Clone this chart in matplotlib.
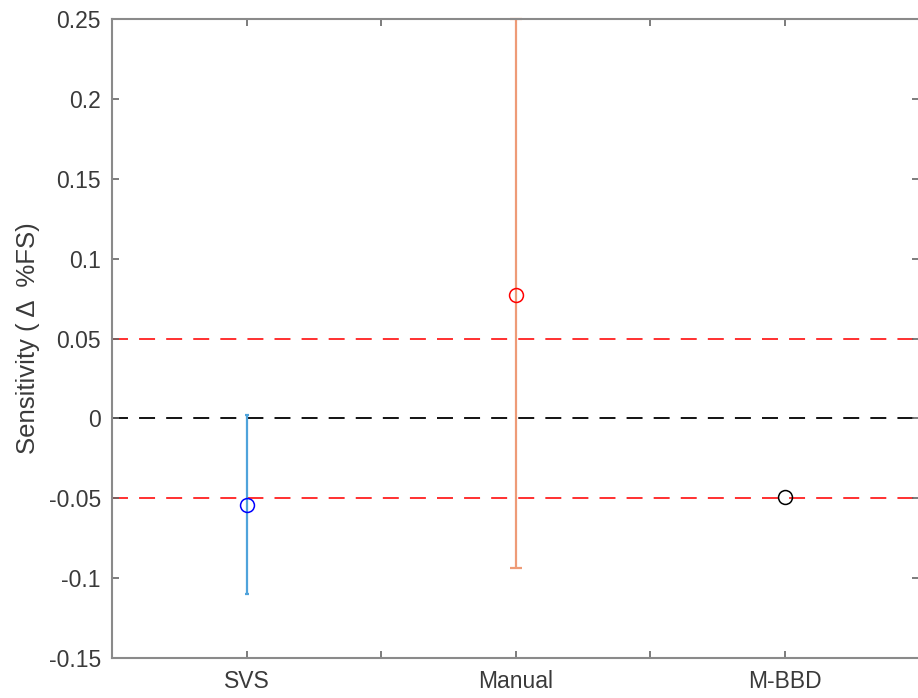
import matplotlib
matplotlib.use("Agg")
import matplotlib.pyplot as plt
import numpy as np

categories = ["SVS", "Manual", "M-BBD"]
positions = [1, 2, 3]
means = [-0.054, 0.0775, -0.049]
upper = [0.002, 0.25, None]
lower = [-0.11, -0.0935, None]
marker_colors = ["#0000ff", "#ff0000", "#000000"]
bar_colors = ["#4fa3db", "#ee9b77", None]
cap_colors = ["#3d95d0", "#e2672f", None]
cap_sizes = [1.5, 4.0, 0]
ref_lines = [0.05, 0.0, -0.05]
ref_colors = ["#ff2020", "#000000", "#ff2020"]
yticks = [-0.15, -0.1, -0.05, 0, 0.05, 0.1, 0.15, 0.2, 0.25]
ytick_labels = ["-0.15", "-0.1", "-0.05", "0", "0.05", "0.1", "0.15", "0.2", "0.25"]

plt.rcParams['font.family'] = ['Liberation Sans', 'DejaVu Sans']
plt.rcParams['lines.scale_dashes'] = False

W, H = 918, 698
fig = plt.figure(figsize=(W / 100, H / 100), dpi=100)
left, right, top, bottom = 112, 919, 19, 658
ax = fig.add_axes([left / W, (H - bottom) / H, (right - left) / W, (bottom - top) / H])

ax.set_xlim(0.5, 3.5)
ax.set_ylim(-0.15, 0.25)

for y, c in zip(ref_lines, ref_colors):
    ax.axhline(y, color=c, lw=1.3, dashes=(11.5, 8.0), zorder=1)

for i in range(len(categories)):
    if upper[i] is not None:
        yerr = [[means[i] - lower[i]], [upper[i] - means[i]]]
        eb = ax.errorbar([positions[i]], [means[i]], yerr=yerr, fmt='none',
                         ecolor=bar_colors[i], elinewidth=1.6, capsize=cap_sizes[i],
                         capthick=1.6, zorder=2, clip_on=False)
        for cl in eb[1]:
            cl.set_color(cap_colors[i])
    ax.plot([positions[i]], [means[i]], 'o', mfc='none', mec=marker_colors[i],
            ms=10, mew=1.1, zorder=3)

ax.set_xticks([0.5, 1, 1.5, 2, 2.5, 3, 3.5])
ax.set_xticklabels(["", "SVS", "", "Manual", "", "M-BBD", ""])
ax.set_yticks(yticks)
ax.set_yticklabels(ytick_labels)

axcol = "#8a8a8a"
for s in ax.spines.values():
    s.set_color(axcol)
    s.set_linewidth(1.5)
ax.tick_params(direction='in', length=5, width=1.2, color="#666666",
               labelcolor="#3a3a3a", labelsize=16.5, top=True, right=True, pad=8)
ax.tick_params(axis='x', pad=9)

ax.set_ylabel("Sensitivity ( Δ  %FS)", fontsize=18.5, color="#3a3a3a", labelpad=6)

fig.savefig("out.png", dpi=100)
